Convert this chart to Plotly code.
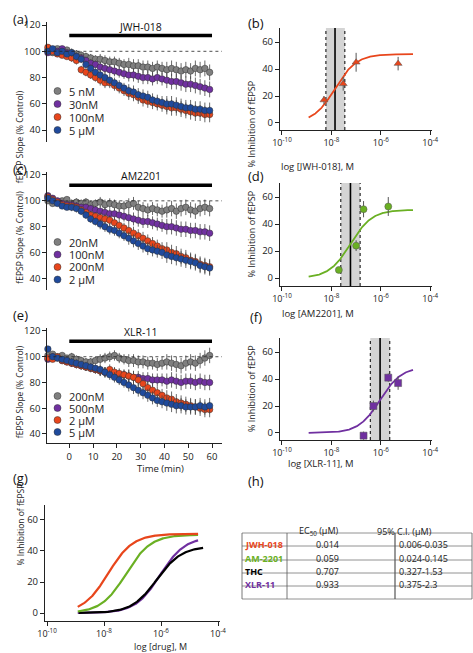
import numpy as np
import plotly.graph_objects as go

W, H = 473, 653
FONT = "Open Sans"

# ---------------- data ----------------
time_min = [-9,-7,-5,-3,-1,1,3,5,7,9,11,13,15,17,19,21,23,25,27,29,31,33,35,37,39,41,43,45,47,49,51,53,55,57,59]

a_labels = ["5 nM", "30nM", "100nM", "5 µM"]
a_gray   = [101,99,102,100,101,99,98,97,96,95,94,94,93,92,92,91,90,90,89,89,88,88,87,88,87,86,87,86,85,86,85,87,86,87,84]
a_purple = [99,101,100,102,99,98,96,95,93,91,90,88,87,86,85,84,83,82,82,81,80,80,79,80,79,78,77,77,76,75,75,74,73,72,71]
a_orange = [103,100,98,97,96,95,93,86,84,82,80,78,76,76,74,72,70,68,67,65,63,62,61,60,59,58,57,57,56,55,54,53,53,52,52]
a_blue   = [100,102,99,100,98,99,96,94,90,87,84,82,80,78,76,74,72,70,69,67,66,65,63,62,61,60,60,59,58,57,57,56,56,55,55]

c_labels = ["20nM", "100nM", "200nM", "2 µM"]
c_gray   = [100,98,99,100,101,98,99,98,99,97,98,99,97,98,97,96,96,97,98,95,94,93,94,93,92,93,94,92,94,95,93,92,94,95,94]
c_purple = [104,102,100,98,97,97,96,95,95,94,93,92,91,90,90,89,88,87,86,85,84,84,83,82,81,80,80,79,78,78,77,77,76,76,75]
c_orange = [103,101,99,97,96,96,95,93,91,89,88,87,86,85,83,81,79,77,75,73,71,69,67,65,63,62,60,59,57,56,54,53,51,50,49]
c_blue   = [102,100,98,96,95,95,94,92,89,86,84,82,80,78,77,75,73,71,69,67,65,63,62,61,60,58,57,56,55,54,53,52,50,49,48]

e_labels = ["200nM", "500nM", "2 µM", "5 µM"]
e_gray   = [101,102,100,101,99,100,98,97,96,96,97,98,99,100,101,99,98,97,97,96,96,95,95,94,95,96,95,94,93,95,96,95,97,99,101]
e_purple = [98,100,99,97,96,95,94,93,92,91,90,89,88,88,87,86,86,85,84,84,83,83,82,82,82,81,82,81,80,81,81,80,81,80,80]
e_orange = [99,98,100,97,96,95,94,93,92,91,90,89,88,90,88,87,86,85,84,82,79,76,74,72,70,68,67,65,64,63,62,61,60,59,59]
e_blue   = [106,100,99,98,97,96,95,94,93,92,91,90,88,86,84,82,80,78,76,74,72,70,68,66,65,64,63,62,62,61,61,61,62,61,62]

sem = [2,2,2,2,2,3,3,3,3,3,3,4,4,4,4,4,4,5,5,5,5,5,5,5,5,6,6,6,6,6,6,6,6,6,6]

# dose-response points
b_conc = [5e-9, 3e-8, 1e-7, 5e-6]; b_inh = [17, 29, 45, 44]; b_err = [3, 5, 7, 5]
d_conc = [2e-8, 1e-7, 2e-7, 2e-6]; d_inh = [6, 24, 51, 53]; d_err = [2, 4, 6, 7]
f_conc = [2e-7, 5e-7, 2e-6, 5e-6]; f_inh = [-2, 20, 41, 37]; f_err = [3, 4, 3, 5]

# table / fit parameters
drugs    = ["JWH-018", "AM-2201", "THC", "XLR-11"]
ec50_uM  = [0.014, 0.059, 0.707, 0.933]
ci_text  = ["0.006-0.035", "0.024-0.145", "0.327-1.53", "0.375-2.3"]
ci_lo_uM = [0.006, 0.024, 0.327, 0.375]
ci_hi_uM = [0.035, 0.145, 1.53, 2.3]
top_fit  = [51, 50.5, 43, 49]
fit_lo   = [1.2e-9, 1.2e-9, 1.3e-9, 1.2e-9]
fit_hi   = [2e-5, 2e-5, 3e-5, 2e-5]

ORANGE = "#e8461c"; GREEN = "#6ab023"; PURPLE = "#7030a0"; BLUE = "#1f4a9c"; GRAY = "#7f7f7f"
drug_col = [ORANGE, GREEN, "#000000", PURPLE]
ts_cols = [GRAY, PURPLE, ORANGE, BLUE]

def px(x): return x / W
def py(y): return 1 - y / H

fig = go.Figure()
layout = {}
shapes = []
annots = []

def ax(n, xdom, ydom, xr, yr, xtype="linear", **kw):
    xs = "xaxis" if n == 1 else f"xaxis{n}"
    ys = "yaxis" if n == 1 else f"yaxis{n}"
    common = dict(showline=True, linecolor="#222", linewidth=1.2, ticks="outside", ticklen=4,
                  tickcolor="#222", showgrid=False, zeroline=False, automargin=False,
                  tickfont=dict(family=FONT, size=9.5, color="#222"))
    layout[xs] = dict(domain=[px(xdom[0]), px(xdom[1])], range=xr, anchor=f"y{n if n>1 else ''}",
                      type=xtype, **common, **kw)
    layout[ys] = dict(domain=[py(ydom[1]), py(ydom[0])], range=yr, anchor=f"x{n if n>1 else ''}", **common)

def refs(n):
    return ("x" if n == 1 else f"x{n}"), ("y" if n == 1 else f"y{n}")

# ---------- time course panels ----------
ts_panels = [
    (1, (47.4, 222), (22.4, 142), [31, 122], "JWH-018", a_labels, [a_gray, a_purple, a_orange, a_blue], 91, 13, False),
    (2, (47.4, 222), (172.4, 290), [31, 122], "AM2201", c_labels, [c_gray, c_purple, c_orange, c_blue], 242, 12.5, False),
    (3, (47.4, 222), (328.4, 443), [33, 122], "XLR-11", e_labels, [e_gray, e_purple, e_orange, e_blue], 396, 12, True),
]
for n, xd, yd, yr, title, labels, series, ly, lstep, showx in ts_panels:
    ax(n, xd, yd, [-9.2, 64.2], yr)
    layout["yaxis" if n == 1 else f"yaxis{n}"].update(tickvals=[40, 60, 80, 100, 120])
    xkey = "xaxis" if n == 1 else f"xaxis{n}"
    layout[xkey].update(tickvals=[-10, 0, 10, 20, 30, 40, 50, 60])
    if not showx:
        layout[xkey].update(showline=False, ticks="", showticklabels=False)
    xr_, yr_ = refs(n)
    for vals, col in zip(series, ts_cols):
        fig.add_trace(go.Scatter(x=time_min, y=vals, mode="markers", xaxis=xr_, yaxis=yr_,
                                 marker=dict(size=6.5, color=col, line=dict(color="#333", width=0.5)),
                                 error_y=dict(type="data", array=sem, color="#444", thickness=0.8, width=0),
                                 cliponaxis=False, showlegend=False))
    shapes.append(dict(type="line", xref=xr_, yref=yr_, x0=-9.2, x1=64.2, y0=100, y1=100,
                       line=dict(color="#222", width=0.8, dash="dot")))
    shapes.append(dict(type="line", xref=xr_, yref=yr_, x0=0, x1=60, y0=112, y1=112,
                       line=dict(color="#000", width=3.5)))
    annots.append(dict(xref=xr_, yref=yr_, x=30, y=112, yshift=9, text=title, showarrow=False,
                       font=dict(family=FONT, size=10.5, color="#111")))
    for i, (lab, col) in enumerate(zip(labels, ts_cols)):
        yy = ly + i * lstep
        shapes.append(dict(type="circle", xref="paper", yref="paper", x0=px(54), x1=px(61),
                           y0=py(yy + 3.5), y1=py(yy - 3.5), fillcolor=col, line=dict(color="#333", width=0.5)))
        annots.append(dict(xref="paper", yref="paper", x=px(67), y=py(yy), xanchor="left", yanchor="middle",
                           text=lab, showarrow=False, font=dict(family=FONT, size=11, color="#222")))
    annots.append(dict(xref="paper", yref="paper", x=px(12), y=py((yd[0] + yd[1]) / 2 + 6), textangle=-90,
                       text="fEPSP Slope (% Control)", showarrow=False,
                       font=dict(family=FONT, size=8.5, color="#222")))
annots.append(dict(xref="paper", yref="paper", x=px(135), y=py(477), text="Time (min)", showarrow=False,
                   font=dict(family=FONT, size=9.5, color="#222")))

# ---------- dose-response panels ----------
logtv = [1e-10, 1e-8, 1e-6, 1e-4]
logtt = ["10<sup>-10</sup>", "10<sup>-8</sup>", "10<sup>-6</sup>", "10<sup>-4</sup>"]

def hill(x, ec, top):
    return top / (1 + (ec / x))

dr_panels = [
    (4, (280, 431.5), (28, 130), [-5.2, 70.4], 0, b_conc, b_inh, b_err, "triangle-up", "log [JWH-018], M", 158),
    (5, (280, 431.5), (183, 286), [-5.9, 70.4], 1, d_conc, d_inh, d_err, "circle", "log [AM2201], M", 313),
    (6, (280, 431.5), (338, 440), [-5.2, 70.4], 3, f_conc, f_inh, f_err, "square", "log [XLR-11], M", 472),
]
for n, xd, yd, yr, di, conc, inh, err, sym, xtitle, xty in dr_panels:
    ax(n, xd, yd, [-10.08, -3.95], yr, xtype="log", tickvals=logtv, ticktext=logtt)
    layout[f"yaxis{n}"].update(tickvals=[0, 20, 40, 60])
    layout[f"xaxis{n}"]["tickfont"] = dict(family=FONT, size=9, color="#222")
    xr_, yr_ = refs(n)
    col = drug_col[di]
    ec = ec50_uM[di] * 1e-6
    lo, hi = ci_lo_uM[di] * 1e-6, ci_hi_uM[di] * 1e-6
    fig.add_trace(go.Scatter(x=[lo, lo, hi, hi], y=[yr[0], yr[1], yr[1], yr[0]], fill="toself",
                             fillcolor="#d4d4d4", mode="none", xaxis=xr_, yaxis=yr_, showlegend=False,
                             hoverinfo="skip"))
    for xv, dash, w in [(lo, "dot", 1), (hi, "dot", 1), (ec, "solid", 1.6)]:
        fig.add_trace(go.Scatter(x=[xv, xv], y=[yr[0], yr[1]], mode="lines", xaxis=xr_, yaxis=yr_,
                                 line=dict(color="#000", width=w, dash=dash), showlegend=False, hoverinfo="skip"))
    xs = np.logspace(np.log10(fit_lo[di]), np.log10(fit_hi[di]), 200)
    fig.add_trace(go.Scatter(x=xs, y=hill(xs, ec, top_fit[di]), mode="lines", xaxis=xr_, yaxis=yr_,
                             line=dict(color=col, width=1.8), showlegend=False))
    fig.add_trace(go.Scatter(x=conc, y=inh, mode="markers", xaxis=xr_, yaxis=yr_,
                             marker=dict(symbol=sym, size=7, color=col, line=dict(color="#555", width=0.5)),
                             error_y=dict(type="data", array=err, color="#555", thickness=1, width=0),
                             showlegend=False, cliponaxis=False))
    annots.append(dict(xref="paper", yref="paper", x=px(251), y=py((yd[0] + yd[1]) / 2), textangle=-90,
                       text="% Inhibition of fEPSP", showarrow=False, font=dict(family=FONT, size=9, color="#222")))
    annots.append(dict(xref="paper", yref="paper", x=px(356), y=py(xty), text=xtitle, showarrow=False,
                       font=dict(family=FONT, size=9.5, color="#222")))

# ---------- panel g ----------
ax(7, (45, 220), (505, 621), [-10.07, -3.93], [-5.1, 69.6], xtype="log", tickvals=logtv, ticktext=logtt)
layout["yaxis7"].update(tickvals=[0, 20, 40, 60])
layout["xaxis7"]["tickfont"] = dict(family=FONT, size=9, color="#222")
for di in [3, 2, 1, 0]:
    xs = np.logspace(np.log10(fit_lo[di]), np.log10(fit_hi[di]), 200)
    fig.add_trace(go.Scatter(x=xs, y=hill(xs, ec50_uM[di] * 1e-6, top_fit[di]), mode="lines",
                             xaxis="x7", yaxis="y7", line=dict(color=drug_col[di], width=2.2), showlegend=False))
annots.append(dict(xref="paper", yref="paper", x=px(12), y=py(568), textangle=-90, text="% Inhibition of fEPSP",
                   showarrow=False, font=dict(family=FONT, size=8.5, color="#222")))
annots.append(dict(xref="paper", yref="paper", x=px(132), y=py(646), yanchor="middle", text="log [drug], M",
                   showarrow=False, font=dict(family=FONT, size=9, color="#222")))

# ---------- table h ----------
tx0, tx1, c1, c2 = 242, 472, 287, 395
rows_y = [533, 546, 560, 573, 586, 599]
for yv in rows_y:
    shapes.append(dict(type="line", xref="paper", yref="paper", x0=px(tx0), x1=px(tx1), y0=py(yv), y1=py(yv),
                       line=dict(color="#777", width=0.8)))
for xv in [tx0, c1, c2, tx1]:
    shapes.append(dict(type="line", xref="paper", yref="paper", x0=px(xv), x1=px(xv), y0=py(533), y1=py(599),
                       line=dict(color="#555", width=1.2 if xv == c2 else 0.8)))
tf = dict(family="Open Sans", size=9, color="#222")
annots.append(dict(xref="paper", yref="paper", x=px((c1 + c2) / 2), y=py(539.5), text="EC<sub>50</sub> (µM)",
                   showarrow=False, font=tf))
annots.append(dict(xref="paper", yref="paper", x=px((c2 + tx1) / 2), y=py(539.5), text="95% C.I. (µM)",
                   showarrow=False, font=tf))
for i, (d, e, ci, col) in enumerate(zip(drugs, ec50_uM, ci_text, drug_col)):
    yc = (rows_y[i + 1] + rows_y[i + 2]) / 2
    annots.append(dict(xref="paper", yref="paper", x=px(tx0 + 1), y=py(yc), xanchor="left", text=f"<b>{d}</b>",
                       showarrow=False, font=dict(family="Open Sans", size=9, color=col)))
    annots.append(dict(xref="paper", yref="paper", x=px((c1 + c2) / 2), y=py(yc), text=f"{e:.3f}",
                       showarrow=False, font=tf))
    annots.append(dict(xref="paper", yref="paper", x=px(c2 + 2), y=py(yc), xanchor="left", text=ci,
                       showarrow=False, font=tf))

# ---------- panel letters ----------
for lab, x, y in [("(a)", 11, 8), ("(b)", 256, 12), ("(c)", 11, 158), ("(d)", 256, 165),
                  ("(e)", 11, 315), ("(f)", 256, 317), ("(g)", 11, 489), ("(h)", 256, 492)]:
    annots.append(dict(xref="paper", yref="paper", x=px(x), y=py(y), text=lab, showarrow=False,
                       font=dict(family=FONT, size=13, color="#111")))

fig.update_layout(width=W, height=H, margin=dict(l=0, r=0, t=0, b=0, autoexpand=False), paper_bgcolor="white",
                  plot_bgcolor="rgba(0,0,0,0)", shapes=shapes, annotations=annots, showlegend=False, **layout)
fig.write_html("out.html", config={"displayModeBar": False},
               post_script="document.body.style.margin='0';document.body.style.overflow='hidden';")
